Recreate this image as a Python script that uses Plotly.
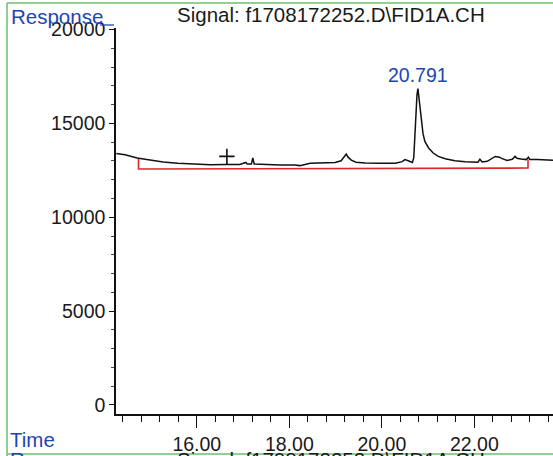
import plotly.graph_objects as go

# Chromatogram trace (time in min, response)
time = [14.26, 14.45, 14.71, 14.99, 15.27, 15.59, 15.92, 16.29, 16.61, 16.93,
        17.06, 17.09, 17.18, 17.21, 17.24, 17.47, 17.80, 18.12, 18.23, 18.45,
        18.77, 18.99, 19.12, 19.18, 19.23, 19.27, 19.34, 19.44, 19.64, 19.96,
        20.29, 20.44, 20.50, 20.57, 20.66, 20.69, 20.71, 20.73, 20.76, 20.78,
        20.79, 20.82, 20.85, 20.89, 20.93, 21.01, 21.11, 21.22, 21.37, 21.58,
        21.80, 21.97, 22.08, 22.12, 22.17, 22.28, 22.37, 22.45, 22.54, 22.60,
        22.71, 22.82, 22.88, 22.92, 23.01, 23.12, 23.17, 23.20, 23.36, 23.53, 23.70]
response = [13390, 13330, 13160, 13040, 12940, 12880, 12840, 12800, 12810, 12815,
            12920, 12830, 12830, 13160, 12840, 12800, 12780, 12780, 12750, 12870,
            12910, 12920, 13010, 13230, 13360, 13200, 13040, 12930, 12890, 12880,
            12880, 12960, 13070, 13010, 12920, 13170, 14130, 15470, 16530, 16850,
            16640, 16000, 15040, 14450, 14040, 13690, 13420, 13240, 13120, 13010,
            12960, 12920, 12930, 13090, 12940, 12980, 13120, 13240, 13200, 13120,
            13030, 13090, 13240, 13140, 13100, 13070, 13200, 13070, 13070, 13040, 13030]

# Integration baseline
base_time = [14.74, 14.74, 23.16, 23.16]
base_resp = [13120, 12570, 12620, 13080]

# Peak label and event marker
peak_time = 20.78
peak_label = "20.791"
marker_time = [16.65]
marker_resp = [13240]

x_ticks = [16, 18, 20, 22]
y_ticks = [0, 5000, 10000, 15000, 20000]

FONT = "Liberation Sans, Arial, sans-serif"
BLUE = "#1c46b4"
GREEN = "#6cbf72"

fig = go.Figure()
fig.add_trace(go.Scatter(x=base_time, y=base_resp, mode="lines",
                         line=dict(color="#e0262a", width=1.6), hoverinfo="skip"))
fig.add_trace(go.Scatter(x=time, y=response, mode="lines",
                         line=dict(color="#111111", width=1.5)))
fig.add_trace(go.Scatter(x=marker_time, y=marker_resp, mode="markers",
                         marker=dict(symbol="cross-thin", size=11,
                                     line=dict(color="#111111", width=1.6))))

fig.add_annotation(x=peak_time, y=17600, xref="x", yref="y", text=peak_label,
                   showarrow=False, font=dict(size=19.5, color=BLUE, family=FONT),
                   xanchor="center", yanchor="middle")

# texts around the plot
fig.add_annotation(x=-0.2449, y=1.0285, xref="paper", yref="paper", text="Response",
                   showarrow=False, xanchor="left", yanchor="middle",
                   font=dict(size=20.5, color=BLUE, family=FONT))
fig.add_annotation(x=0.4931, y=1.036, xref="paper", yref="paper",
                   text="Signal: f1708172252.D\\FID1A.CH",
                   showarrow=False, xanchor="center", yanchor="middle",
                   font=dict(size=20.5, color="#1a1a1a", family=FONT))
fig.add_annotation(x=-0.2471, y=-0.0648, xref="paper", yref="paper", text="Time",
                   showarrow=False, xanchor="left", yanchor="middle",
                   font=dict(size=20.5, color=BLUE, family=FONT))
# next panel header, cut off at the bottom of the page
fig.add_annotation(x=0.4931, y=-0.084, xref="paper", yref="paper",
                   text="Signal: f1708172252.D\\FID1A.CH",
                   showarrow=False, xanchor="center", yanchor="top",
                   font=dict(size=20.5, color="#1a1a1a", family=FONT))
fig.add_annotation(x=-0.2471, y=-0.084, xref="paper", yref="paper", text="Response",
                   showarrow=False, xanchor="left", yanchor="top",
                   font=dict(size=20.5, color=BLUE, family=FONT))

# frame lines
fig.add_shape(type="line", xref="paper", yref="paper", x0=-0.2494, x1=-0.2494,
              y0=-0.12, y1=1.0648, line=dict(color=GREEN, width=1.5))
fig.add_shape(type="line", xref="paper", yref="paper", x0=-0.2494, x1=1.01,
              y0=1.0648, y1=1.0648, line=dict(color=GREEN, width=1.5))
fig.add_shape(type="line", xref="paper", yref="paper", x0=-0.2494, x1=1.01,
              y0=-0.1036, y1=-0.1036, line=dict(color=GREEN, width=1.5))
fig.add_shape(type="line", xref="paper", yref="paper", x0=-0.0366, x1=-0.0046,
              y0=1.0078, y1=1.0078, line=dict(color=BLUE, width=1.3))

fig.update_layout(
    width=553, height=456,
    margin=dict(l=116, r=0, t=28, b=42),
    paper_bgcolor="white", plot_bgcolor="white",
    showlegend=False,
    font=dict(family=FONT, color="#1a1a1a"),
    xaxis=dict(range=[14.253, 23.70], showline=True, linecolor="#111111", linewidth=1.5,
               automargin=False,
               ticks="outside", ticklen=12, tickwidth=1.3, tickcolor="#111111",
               tickvals=x_ticks, tickformat=".2f",
               tickfont=dict(size=19.5, color="#1a1a1a", family=FONT),
               showgrid=False, zeroline=False,
               minor=dict(dtick=0.4, tick0=16, ticks="outside", ticklen=6,
                          tickwidth=1.2, tickcolor="#111111", showgrid=False)),
    yaxis=dict(range=[-480, 20080], showline=True, linecolor="#111111", linewidth=1.5,
               automargin=False,
               ticks="outside", ticklen=5, tickwidth=1.2, tickcolor="#111111",
               tickvals=y_ticks, tickformat="d",
               tickfont=dict(size=19.5, color="#1a1a1a", family=FONT),
               showgrid=False, zeroline=False,
               minor=dict(dtick=1000, tick0=0, ticks="outside", ticklen=3,
                          tickwidth=1, tickcolor="#444444", showgrid=False)),
)

fig.write_html("out.html", config={"displayModeBar": False},
               post_script="document.body.style.margin='0';document.body.style.overflow='hidden';")
